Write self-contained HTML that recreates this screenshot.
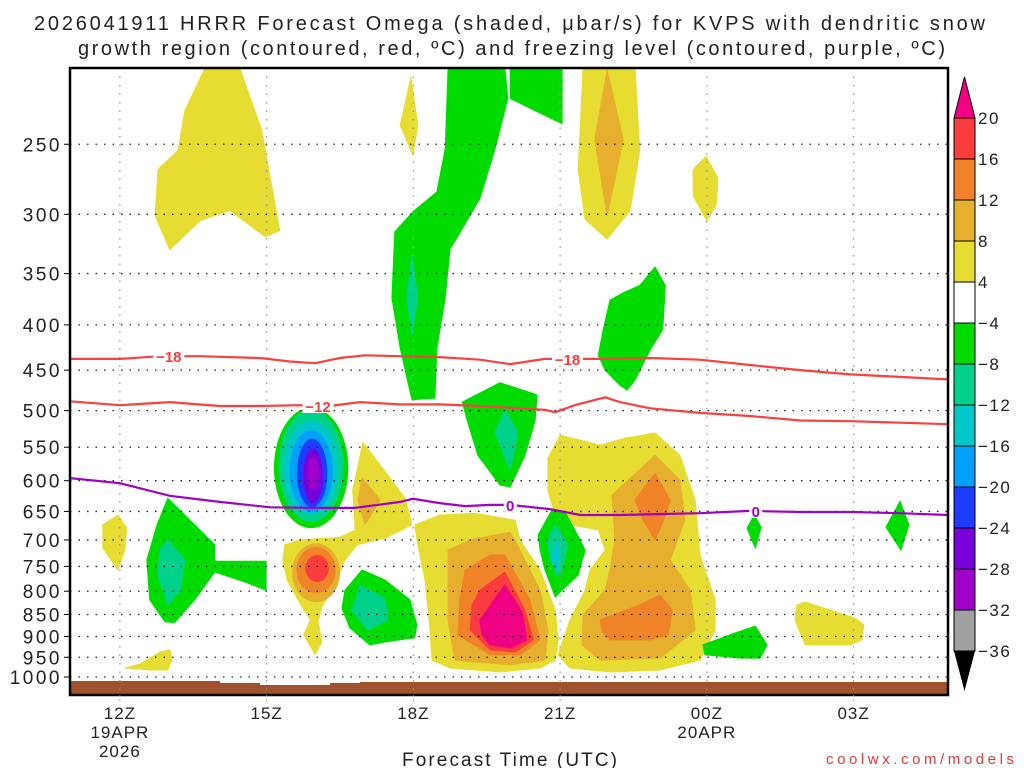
<!DOCTYPE html>
<html><head><meta charset="utf-8"><style>
body{margin:0;background:#fff;width:1024px;height:768px;overflow:hidden}
svg{display:block}
text{font-family:"Liberation Sans","DejaVu Sans",sans-serif}
</style></head><body>
<svg id="chart" width="1024" height="768" viewBox="0 0 1024 768">
<text x="34" y="30" textLength="951" lengthAdjust="spacing" font-size="20" fill="#222">2026041911 HRRR Forecast Omega (shaded, μbar/s) for KVPS with dendritic snow</text>
<text x="78" y="55" textLength="867" lengthAdjust="spacing" font-size="20" fill="#222">growth region (contoured, red, ºC) and freezing level (contoured, purple, ºC)</text>
<defs><clipPath id="plotclip"><rect x="70" y="68" width="878" height="627"/></clipPath></defs>
<g id="plot" clip-path="url(#plotclip)"></g>
<g id="grid"></g>
<g id="lines" clip-path="url(#plotclip)"></g>
<rect x="70" y="68" width="878" height="627" fill="none" stroke="#000" stroke-width="2.5"/>
<g id="axes"></g>
<g id="cbar"></g>
<text x="402" y="766" textLength="215" lengthAdjust="spacing" font-size="19" fill="#222">Forecast Time (UTC)</text>
<text x="826" y="764" textLength="188" lengthAdjust="spacing" font-size="15" fill="#e03a3a">coolwx.com/models</text>
</svg>
<script>
// axes domain
const hourMin = 10.98, hourMax = 28.93;
const pTop = 205, pBottom = 1048;
const pressureTicks = [250,300,350,400,450,500,550,600,650,700,750,800,850,900,950,1000];
const timeTicks = [12,15,18,21,24,27];
const timeLabels = [["12Z","19APR","2026"],["15Z"],["18Z"],["21Z"],["00Z","20APR"],["03Z"]];
const cbarLabels = ["20","16","12","8","4","−4","−8","−12","−16","−20","−24","−28","−32","−36"];
const cbarColors = ["#fa3c3c","#f08228","#e6af2d","#e6dc32","#ffffff","#00dc00","#00d28c","#00c8c8","#00a0ff","#1e3cff","#7800dc","#a000c8","#a0a0a0"];

// shaded omega regions [hour, hPa]
const yelTopLeft = [[13.33,229],[13.74,205],[14.45,205],[14.90,241],[15.27,313],[14.97,318],[14.25,297],[13.64,305],[13.02,329],[12.72,301],[12.78,267],[13.19,254]];
const yelSmall18 = [[17.95,210],[18.09,238],[17.99,257],[17.73,238]];
const grnColumn = [[18.71,205],[19.87,205],[19.93,222],[19.67,253],[19.36,288],[18.89,319],[18.75,328],[18.65,373],[18.48,425],[18.44,484],[17.97,486],[17.73,425],[17.56,373],[17.62,314],[17.99,298],[18.48,283],[18.65,253]];
const tealColumn = [[17.97,334],[18.09,373],[17.97,411],[17.87,373]];
const grnTop20 = [[19.98,205],[21.04,205],[21.04,237],[19.98,222]];
const yelTop22 = [[21.47,205],[22.53,205],[22.63,254],[22.43,297],[21.96,320],[21.51,304],[21.37,267]];
const goldTop22 = [[21.96,206],[22.29,247],[21.96,301],[21.71,247]];
const yelSmall00 = [[23.98,258],[24.23,273],[24.19,293],[24.00,305],[23.72,286],[23.72,267]];
const grnMid22 = [[22.94,344],[23.15,361],[23.10,405],[22.84,427],[22.53,462],[22.37,474],[22.22,468],[21.92,450],[21.78,433],[21.88,405],[22.02,375],[22.33,367],[22.63,361]];
const grn20 = [[19.00,489],[19.77,465],[20.53,480],[20.49,513],[20.28,562],[19.98,610],[19.77,607],[19.32,562],[19.10,513]];
const teal20 = [[19.87,499],[20.14,529],[19.98,584],[19.67,529]];
const grnLeft13 = [[12.98,628],[13.94,709],[13.94,740],[14.99,740],[14.99,798],[14.56,781],[13.94,761],[13.53,818],[13.12,868],[12.92,866],[12.61,818],[12.55,738],[12.76,673]];
const tealLeft13 = [[12.98,700],[13.33,738],[13.23,798],[12.98,829],[12.78,767],[12.82,719]];
const yelLeft12 = [[11.96,656],[12.14,679],[12.10,719],[11.96,757],[11.65,715],[11.65,673]];
const yelBottom13 = [[12.10,977],[12.41,967],[12.82,937],[13.02,932],[13.06,957],[12.98,982],[12.61,982]];
const yel16 = [[15.37,709],[15.68,700],[16.50,695],[16.81,682],[16.76,615],[16.97,543],[17.83,628],[17.97,673],[17.42,697],[16.85,709],[16.60,738],[16.40,787],[16.13,833],[16.05,866],[16.13,913],[15.99,944],[15.76,896],[15.89,862],[15.64,818],[15.42,777],[15.33,738]];
const gold17 = [[16.95,596],[17.32,631],[17.01,673],[16.87,631]];
const grn17 = [[16.95,757],[17.42,777],[17.93,818],[18.07,873],[18.03,903],[17.42,913],[17.11,920],[16.70,880],[16.54,836],[16.60,798]];
const teal17 = [[16.91,787],[17.42,815],[17.48,862],[17.07,885],[16.74,840]];
const yelM = [[18.03,673],[18.54,656],[19.26,653],[20.08,665],[20.18,700],[20.59,757],[20.90,840],[20.96,908],[20.90,957],[20.59,977],[19.77,987],[18.75,977],[18.38,957],[18.34,885],[18.24,777],[18.09,709]];
const goldM = [[18.71,719],[19.16,700],[19.98,686],[20.18,719],[20.59,798],[20.75,885],[20.69,957],[19.98,969],[18.85,957],[18.71,862]];
const orgM = [[19.06,757],[19.57,728],[19.87,728],[20.38,818],[20.59,908],[20.18,944],[19.57,944],[18.91,896],[18.95,818]];
const redM = [[19.36,798],[19.87,761],[20.28,840],[20.45,908],[20.08,937],[19.57,932],[19.16,885],[19.20,829]];
const magM = [[19.36,862],[19.87,787],[20.22,844],[20.32,908],[19.98,927],[19.57,920],[19.40,896]];
const yelN = [[20.75,566],[21.00,533],[21.82,547],[22.33,537],[22.94,530],[23.45,562],[23.76,631],[23.86,728],[24.17,818],[24.17,885],[23.86,957],[23.04,982],[22.02,987],[21.20,977],[20.96,944],[21.20,862],[21.51,798],[21.61,757],[21.92,719],[21.78,682],[21.20,673],[20.90,656],[20.75,615]];
const goldN = [[22.06,623],[22.94,562],[23.45,599],[23.55,665],[23.25,738],[23.66,798],[23.76,885],[23.04,952],[21.82,957],[21.45,920],[21.47,851],[21.92,798],[22.02,757],[22.12,700]];
const orgNtop = [[22.53,631],[22.94,589],[23.25,631],[23.08,673],[22.94,700],[22.70,665]];
const orgNbot = [[21.82,862],[22.63,829],[23.04,808],[23.29,840],[23.21,896],[22.84,908],[22.02,908],[21.86,889]];
const grnO = [[20.55,691],[20.83,648],[21.10,651],[21.41,700],[21.51,719],[21.37,767],[21.04,798],[20.90,812],[20.69,757],[20.59,719]];
const tealO = [[20.90,673],[21.16,709],[21.00,767],[20.79,738],[20.75,700]];
const cyanO = [[20.92,700],[21.00,728],[20.92,767],[20.83,728]];
const grnP = [[24.97,656],[25.11,677],[24.99,715],[24.82,679]];
const grnQ = [[27.95,633],[28.13,673],[27.97,719],[27.66,677]];
const grnR = [[23.92,920],[24.57,892],[24.99,876],[25.23,920],[25.09,952],[24.68,952],[23.96,944]];
const yelS = [[25.84,829],[26.01,823],[26.52,840],[27.03,858],[27.21,873],[27.17,908],[26.93,920],[26.01,920],[25.80,862]];
// nested ellipse (hour center, top hPa, bottom hPa, half width hours)
const vortexLevels = [[15.91,496,679,0.76],[15.91,499,668,0.66],[15.91,513,656,0.56],[15.91,526,651,0.44],[15.93,538,643,0.31],[15.95,552,636,0.20],[15.95,564,615,0.12]];
const vortexColors = ["#00dc00","#00d28c","#00c8c8","#00a0ff","#1e3cff","#7800dc","#a000c8"];

// contour lines
const dgz18 = [[10.98,437],[12,437],[12.82,434],[13.64,434],[14.86,436],[15.48,440],[15.99,442],[16.50,436],[17.01,433],[17.73,434],[18.54,435],[19.36,438],[19.98,443],[20.69,437],[21.82,437],[22.84,436],[23.86,438],[24.88,444],[25.91,450],[26.93,455],[27.95,458],[28.93,461]];
const dgz12 = [[10.98,488],[12,493],[13.02,489],[14.04,494],[14.86,494],[15.68,493],[16.29,494],[16.91,489],[17.73,492],[18.54,492],[19.36,494],[20.18,497],[20.69,499],[20.90,502],[21.30,493],[21.92,483],[22.22,489],[22.84,497],[23.86,503],[24.88,507],[25.91,513],[26.93,514],[27.95,516],[28.93,518]];
const frz0 = [[10.98,596],[12,604],[13.02,624],[14.04,634],[15.07,643],[16.09,644],[16.81,644],[17.73,634],[17.99,629],[18.54,636],[19.06,641],[19.57,639],[19.98,639],[20.79,646],[21.41,656],[22.22,656],[23.86,653],[24.88,649],[25.91,651],[26.93,651],[27.95,653],[28.93,656]];
const lineLabels = [["−18",13.0,434,"#fa3c3c"],["−18",21.15,437,"#fa3c3c"],["−12",16.05,494,"#fa3c3c"],["0",19.98,639,"#a000c8"],["0",25.0,649,"#a000c8"]];

const NS="http://www.w3.org/2000/svg";
const X0=70,X1=948,Y0=68,Y1=695;
function xs(h){return X0+(h-hourMin)/(hourMax-hourMin)*(X1-X0);}
function ys(p){return Y0+Math.log(p/pTop)/Math.log(pBottom/pTop)*(Y1-Y0);}
function mk(tag,parent,attrs){const e=document.createElementNS(NS,tag);for(const k in attrs)e.setAttribute(k,attrs[k]);parent.appendChild(e);return e;}
const plot=document.getElementById('plot');
function poly(arr,color,name){
  const e=mk('polygon',plot,{points:arr.map(d=>xs(d[0]).toFixed(1)+','+ys(d[1]).toFixed(1)).join(' '),fill:color,'stroke':color,'stroke-width':1,'stroke-linejoin':'round'});
  
  
}
const Y="#e6dc32",G="#e6af2d",O="#f08228",R="#fa3c3c",M="#f00082",GR="#00dc00",TL="#00d28c",CY="#00c8c8";
poly(yelTopLeft,Y,'omega-region-up-top-left');
poly(yelSmall18,Y,'omega-region-up-small');
poly(grnColumn,GR,'omega-region-down-column');
poly(tealColumn,TL,'omega-region-down-column-core');
poly(grnTop20,GR,'omega-region-down-top');
poly(yelTop22,Y,'omega-region-up-top-right');
poly(goldTop22,G,'omega-region-up-top-right-core');
poly(yelSmall00,Y,'omega-region-up-small-00z');
poly(grnMid22,GR,'omega-region-down-mid');
poly(grn20,GR,'omega-region-down-20z');
poly(teal20,TL,'omega-region-down-20z-core');
poly(grnLeft13,GR,'omega-region-down-13z');
poly(tealLeft13,TL,'omega-region-down-13z-core');
poly(yelLeft12,Y,'omega-region-up-12z');
poly(yelBottom13,Y,'omega-region-up-low-13z');
poly(yel16,Y,'omega-region-up-16z');
poly(gold17,G,'omega-region-up-17z-core');
poly(grn17,GR,'omega-region-down-17z');
poly(teal17,TL,'omega-region-down-17z-core');
vortexLevels.forEach((v,i)=>{
  const cy=(ys(v[1])+ys(v[2]))/2, ry=(ys(v[2])-ys(v[1]))/2, rx=v[3]*(X1-X0)/(hourMax-hourMin);
  const e=mk('ellipse',plot,{cx:xs(v[0]),cy:cy,rx:rx,ry:ry,fill:vortexColors[i]});
  
  
});
const coreJ=[[16.01,706,823,0.49,G],[16.01,713,804,0.40,O],[16.03,728,781,0.24,R]];
coreJ.forEach((v,i)=>{
  const cy=(ys(v[1])+ys(v[2]))/2, ry=(ys(v[2])-ys(v[1]))/2, rx=v[3]*(X1-X0)/(hourMax-hourMin);
  const e=mk('ellipse',plot,{cx:xs(v[0]),cy:cy,rx:rx,ry:ry,fill:v[4]});
  
  
});
poly(yelM,Y,'omega-region-up-20z');
poly(goldM,G,'omega-region-up-20z-8');
poly(orgM,O,'omega-region-up-20z-12');
poly(redM,R,'omega-region-up-20z-16');
poly(magM,M,'omega-region-up-20z-20');
poly(yelN,Y,'omega-region-up-22z');
poly(goldN,G,'omega-region-up-22z-8');
poly(orgNtop,O,'omega-region-up-22z-12-top');
poly(orgNbot,O,'omega-region-up-22z-12-bottom');
poly(grnO,GR,'omega-region-down-21z');
poly(tealO,TL,'omega-region-down-21z-core');
poly(cyanO,CY,'omega-region-down-21z-inner');
poly(grnP,GR,'omega-region-down-01z');
poly(grnQ,GR,'omega-region-down-04z');
poly(grnR,GR,'omega-region-down-00z-low');
poly(yelS,Y,'omega-region-up-02z-low');
const ground=mk('path',plot,{d:'M70,681 L220,681 L220,683 L260,683 L260,685 L330,685 L330,683 L360,683 L360,682 L948,682 L948,696 L70,696 Z',fill:'#a0522d'});



const grid=document.getElementById('grid');
pressureTicks.forEach(p=>{
  const l=mk('line',grid,{x1:X0,x2:X1,y1:ys(p),y2:ys(p),stroke:'#222','stroke-width':1.3,'stroke-dasharray':'1.5 7'});
  
  
});
timeTicks.forEach(h=>{
  const l=mk('line',grid,{x1:xs(h),x2:xs(h),y1:Y0,y2:Y1,stroke:'#999','stroke-width':1.3,'stroke-dasharray':'1.5 7'});
  
  
});
const lines=document.getElementById('lines');
function cline(arr,color,name){
  const e=mk('polyline',lines,{points:arr.map(d=>xs(d[0]).toFixed(1)+','+ys(d[1]).toFixed(1)).join(' '),fill:'none',stroke:color,'stroke-width':2.2});
  
  
}
cline(dgz18,'#fa4040','dgz-line-minus18');
cline(dgz12,'#fa4040','dgz-line-minus12');
cline(frz0,'#a000c8','freezing-level-line');
lineLabels.forEach(L=>{
  const x=xs(L[1]),y=ys(L[2]);
  const w=L[0].length*9+4;
  const r=mk('rect',lines,{x:x-w/2,y:y-7,width:w,height:14,fill:'#fff'});
  
  
  const t=mk('text',lines,{x:x,y:y+6,'text-anchor':'middle','font-size':15,'font-weight':'bold',fill:L[3]});
  t.textContent=L[0];
  
  
});
const axes=document.getElementById('axes');
pressureTicks.forEach(p=>{
  const tk=mk('line',axes,{x1:X0-6,x2:X0,y1:ys(p),y2:ys(p),stroke:'#000','stroke-width':1});
  
  
  const t=mk('text',axes,{x:62,y:ys(p)+7,'text-anchor':'end','font-size':19,'letter-spacing':2.5,fill:'#222'});
  t.textContent=p;
  
  
});
timeTicks.forEach((h,i)=>{
  const tk=mk('line',axes,{x1:xs(h),x2:xs(h),y1:Y1,y2:Y1+8,stroke:'#888','stroke-width':1,'stroke-dasharray':'1.5 3'});
  
  
  timeLabels[i].forEach((s,j)=>{
    const t=mk('text',axes,{x:xs(h),y:719+j*19,'text-anchor':'middle','font-size':17,'letter-spacing':1,fill:'#222'});
    t.textContent=s;
    
    
  });
});
const cb=document.getElementById('cbar');
const cbx=954,cbw=21,cbTop=118,seg=41;
const up=mk('polygon',cb,{points:`${cbx},${cbTop} ${cbx+cbw},${cbTop} ${cbx+cbw/2},77`,fill:'#f00082',stroke:'#000','stroke-width':1});


cbarColors.forEach((c,i)=>{
  const r=mk('rect',cb,{x:cbx,y:cbTop+i*seg,width:cbw,height:seg,fill:c,stroke:'#000','stroke-width':1});
  
  
});
const bot=cbTop+cbarColors.length*seg;
const dn=mk('polygon',cb,{points:`${cbx},${bot} ${cbx+cbw},${bot} ${cbx+cbw/2},691`,fill:'#000'});


cbarLabels.forEach((s,i)=>{
  const t=mk('text',cb,{x:978,y:cbTop+i*seg+6,'font-size':17,'letter-spacing':1.5,fill:'#222'});
  t.textContent=s;
  
  
});
</script>
</body></html>
